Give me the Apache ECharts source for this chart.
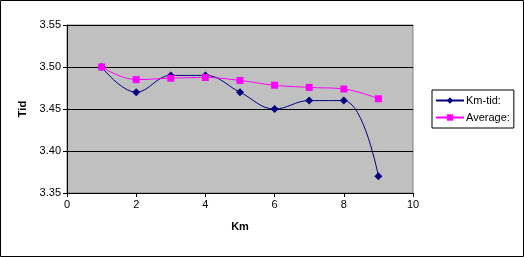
<!DOCTYPE html>
<html><head><meta charset="utf-8">
<script src="https://cdn.jsdelivr.net/npm/echarts@6/dist/echarts.min.js"></script>
<style>html,body{margin:0;padding:0;background:#fff}#c{width:524px;height:257px}</style>
</head><body><div id="c"></div>
<script>
const km = [1, 2, 3, 4, 5, 6, 7, 8, 9];
const kmTid = [3.50, 3.47, 3.49, 3.49, 3.47, 3.45, 3.46, 3.46, 3.37];
const average = [3.50, 3.485, 3.4867, 3.4875, 3.484, 3.4783, 3.4757, 3.4738, 3.4622];
const xTicks = [0, 2, 4, 6, 8, 10];
const yTicks = [3.35, 3.40, 3.45, 3.50, 3.55];

const chart = echarts.init(document.getElementById('c'), null, {renderer: 'canvas'});
const font = 'Liberation Sans, Arial, sans-serif';
chart.setOption({
  animation: false,
  textStyle: {fontFamily: font},
  graphic: [{type: 'rect', shape: {x: 0.5, y: 0.5, width: 523, height: 256}, style: {fill: 'none', stroke: '#000', lineWidth: 1}, z: 100}],
  grid: {left: 67, top: 25, width: 346, height: 168, show: true, backgroundColor: '#C0C0C0', borderColor: '#808080', borderWidth: 1},
  legend: {
    orient: 'vertical', left: 432, top: 90, width: 82,
    itemWidth: 28, itemHeight: 8, itemGap: 6,
    padding: [5, 4, 5, 3],
    borderColor: '#000', borderWidth: 1, backgroundColor: '#fff',
    textStyle: {fontFamily: font, fontSize: 11, color: '#000', padding: [0, 0, 0, -3]},
    data: ['Km-tid:', 'Average:']
  },
  xAxis: {
    type: 'value', min: xTicks[0], max: xTicks[xTicks.length - 1], interval: 2,
    name: 'Km', nameLocation: 'middle', nameGap: 28,
    nameTextStyle: {fontWeight: 'bold', fontSize: 11, color: '#000', fontFamily: font},
    axisLine: {show: true, lineStyle: {color: '#000'}},
    axisTick: {show: true, length: 4, lineStyle: {color: '#000'}},
    axisLabel: {color: '#000', fontSize: 11, margin: 6, fontFamily: font},
    splitLine: {show: false}
  },
  yAxis: {
    type: 'value', min: yTicks[0], max: yTicks[yTicks.length - 1], interval: 0.05,
    name: 'Tid', nameLocation: 'middle', nameGap: 36, nameRotate: 90,
    nameTextStyle: {fontWeight: 'bold', fontSize: 11, color: '#000', fontFamily: font},
    axisLine: {show: true, lineStyle: {color: '#000'}},
    axisTick: {show: true, length: 4, lineStyle: {color: '#000'}},
    axisLabel: {color: '#000', fontSize: 11, margin: 6, fontFamily: font, formatter: v => v.toFixed(2)},
    splitLine: {show: true, lineStyle: {color: '#000', width: 1}}
  },
  series: [
    {name: 'Km-tid:', type: 'line', smooth: 0.4, data: km.map((x, i) => [x, kmTid[i]]),
     symbol: 'diamond', symbolSize: 8, itemStyle: {color: '#000080'}, lineStyle: {color: '#000080', width: 1}, z: 3},
    {name: 'Average:', type: 'line', smooth: 0.4, data: km.map((x, i) => [x, average[i]]),
     symbol: 'rect', symbolSize: 7, itemStyle: {color: '#FF00FF'}, lineStyle: {color: '#FF00FF', width: 1}, z: 4}
  ]
});
</script></body></html>
